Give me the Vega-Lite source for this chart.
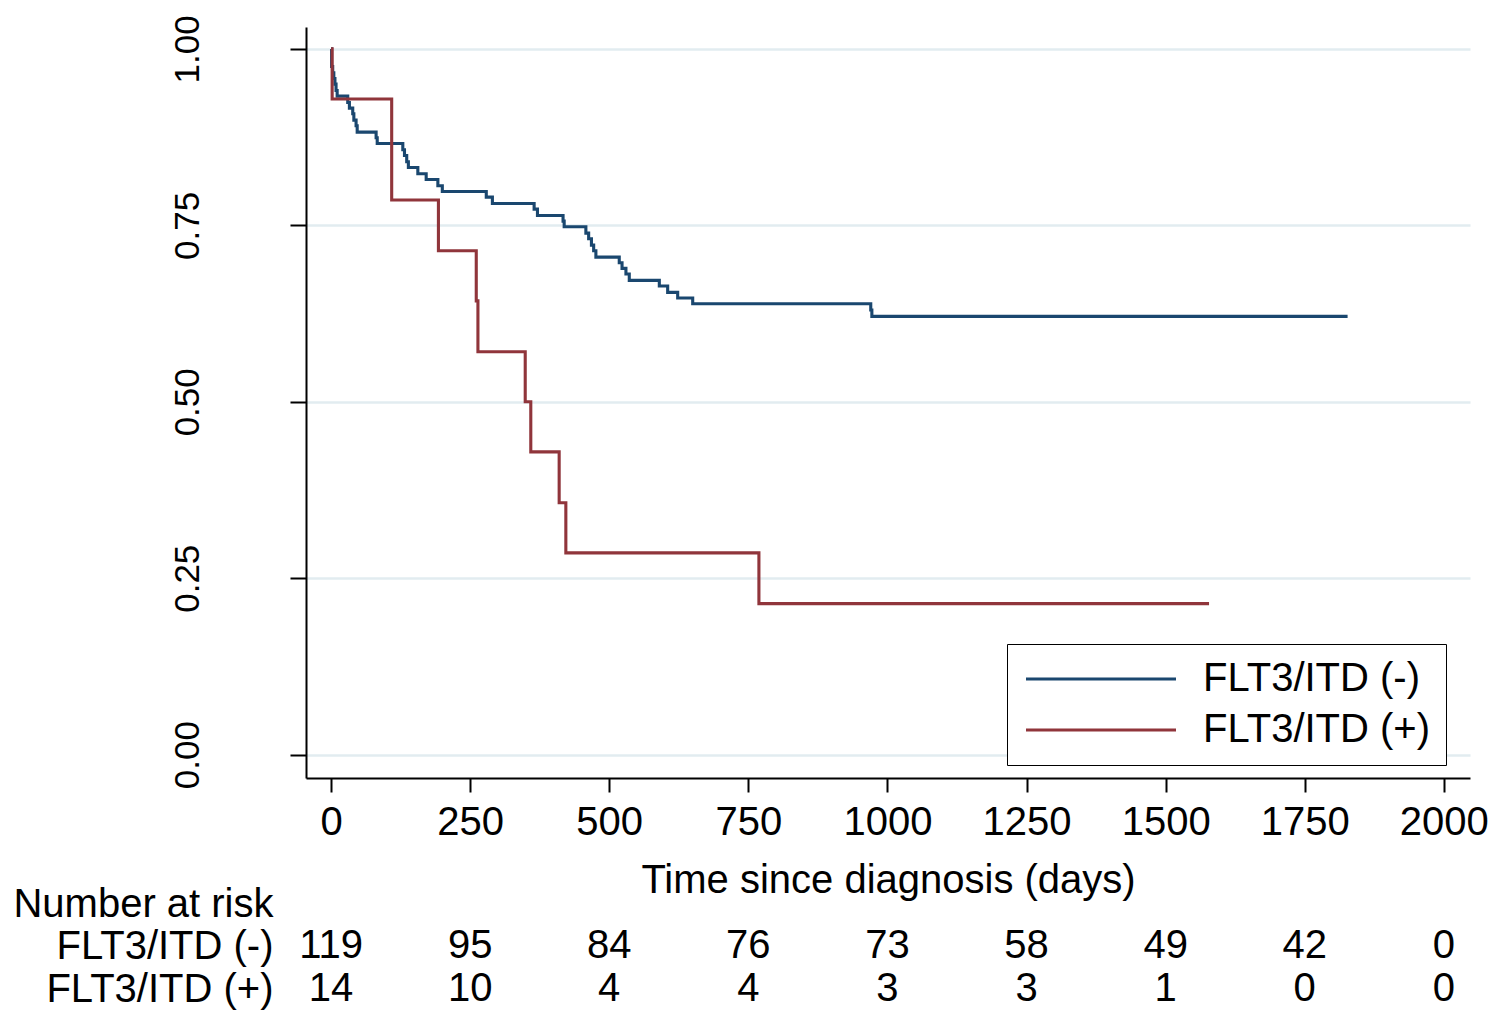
{
  "$schema": "https://vega.github.io/schema/vega-lite/v6.json",
  "background": "white",
  "autosize": {"type": "pad"},
  "padding": {"left": 12, "top": 14, "right": 12, "bottom": 11},
  "spacing": 146.5,
  "bounds": "flush",
  "config": {
    "font": "Liberation Sans",
    "view": {"stroke": null},
    "axis": {
      "labelColor": "black",
      "titleColor": "black",
      "titleFontWeight": "normal",
      "domainColor": "black",
      "tickColor": "black",
      "labelFont": "Liberation Sans",
      "titleFont": "Liberation Sans"
    }
  },
  "datasets": {
    "km": [
      {"group": "FLT3/ITD (-)", "time": 0, "surv": 1.0},
      {"group": "FLT3/ITD (-)", "time": 1, "surv": 0.975},
      {"group": "FLT3/ITD (-)", "time": 3, "surv": 0.966},
      {"group": "FLT3/ITD (-)", "time": 5, "surv": 0.958},
      {"group": "FLT3/ITD (-)", "time": 7, "surv": 0.950},
      {"group": "FLT3/ITD (-)", "time": 9, "surv": 0.941},
      {"group": "FLT3/ITD (-)", "time": 11, "surv": 0.933},
      {"group": "FLT3/ITD (-)", "time": 30, "surv": 0.924},
      {"group": "FLT3/ITD (-)", "time": 33, "surv": 0.916},
      {"group": "FLT3/ITD (-)", "time": 39, "surv": 0.908},
      {"group": "FLT3/ITD (-)", "time": 41, "surv": 0.899},
      {"group": "FLT3/ITD (-)", "time": 45, "surv": 0.891},
      {"group": "FLT3/ITD (-)", "time": 47, "surv": 0.882},
      {"group": "FLT3/ITD (-)", "time": 81, "surv": 0.874},
      {"group": "FLT3/ITD (-)", "time": 83, "surv": 0.866},
      {"group": "FLT3/ITD (-)", "time": 129, "surv": 0.857},
      {"group": "FLT3/ITD (-)", "time": 132, "surv": 0.849},
      {"group": "FLT3/ITD (-)", "time": 136, "surv": 0.840},
      {"group": "FLT3/ITD (-)", "time": 139, "surv": 0.832},
      {"group": "FLT3/ITD (-)", "time": 156, "surv": 0.823},
      {"group": "FLT3/ITD (-)", "time": 171, "surv": 0.815},
      {"group": "FLT3/ITD (-)", "time": 192, "surv": 0.806},
      {"group": "FLT3/ITD (-)", "time": 200, "surv": 0.798},
      {"group": "FLT3/ITD (-)", "time": 279, "surv": 0.790},
      {"group": "FLT3/ITD (-)", "time": 290, "surv": 0.781},
      {"group": "FLT3/ITD (-)", "time": 365, "surv": 0.773},
      {"group": "FLT3/ITD (-)", "time": 371, "surv": 0.764},
      {"group": "FLT3/ITD (-)", "time": 417, "surv": 0.756},
      {"group": "FLT3/ITD (-)", "time": 419, "surv": 0.748},
      {"group": "FLT3/ITD (-)", "time": 458, "surv": 0.739},
      {"group": "FLT3/ITD (-)", "time": 463, "surv": 0.731},
      {"group": "FLT3/ITD (-)", "time": 468, "surv": 0.722},
      {"group": "FLT3/ITD (-)", "time": 472, "surv": 0.714},
      {"group": "FLT3/ITD (-)", "time": 476, "surv": 0.705},
      {"group": "FLT3/ITD (-)", "time": 518, "surv": 0.697},
      {"group": "FLT3/ITD (-)", "time": 523, "surv": 0.689},
      {"group": "FLT3/ITD (-)", "time": 530, "surv": 0.681},
      {"group": "FLT3/ITD (-)", "time": 536, "surv": 0.672},
      {"group": "FLT3/ITD (-)", "time": 590, "surv": 0.664},
      {"group": "FLT3/ITD (-)", "time": 605, "surv": 0.655},
      {"group": "FLT3/ITD (-)", "time": 623, "surv": 0.647},
      {"group": "FLT3/ITD (-)", "time": 650, "surv": 0.639},
      {"group": "FLT3/ITD (-)", "time": 970, "surv": 0.630},
      {"group": "FLT3/ITD (-)", "time": 972, "surv": 0.621},
      {"group": "FLT3/ITD (-)", "time": 1827, "surv": 0.621},
      {"group": "FLT3/ITD (+)", "time": 0, "surv": 1.0},
      {"group": "FLT3/ITD (+)", "time": 2, "surv": 0.929},
      {"group": "FLT3/ITD (+)", "time": 109, "surv": 0.786},
      {"group": "FLT3/ITD (+)", "time": 193, "surv": 0.714},
      {"group": "FLT3/ITD (+)", "time": 261, "surv": 0.643},
      {"group": "FLT3/ITD (+)", "time": 264, "surv": 0.571},
      {"group": "FLT3/ITD (+)", "time": 349, "surv": 0.5},
      {"group": "FLT3/ITD (+)", "time": 359, "surv": 0.429},
      {"group": "FLT3/ITD (+)", "time": 410, "surv": 0.357},
      {"group": "FLT3/ITD (+)", "time": 422, "surv": 0.286},
      {"group": "FLT3/ITD (+)", "time": 769, "surv": 0.214},
      {"group": "FLT3/ITD (+)", "time": 1578, "surv": 0.214}
    ],
    "risk": [
      {"group": "FLT3/ITD (-)", "time": 0, "n": 119},
      {"group": "FLT3/ITD (-)", "time": 250, "n": 95},
      {"group": "FLT3/ITD (-)", "time": 500, "n": 84},
      {"group": "FLT3/ITD (-)", "time": 750, "n": 76},
      {"group": "FLT3/ITD (-)", "time": 1000, "n": 73},
      {"group": "FLT3/ITD (-)", "time": 1250, "n": 58},
      {"group": "FLT3/ITD (-)", "time": 1500, "n": 49},
      {"group": "FLT3/ITD (-)", "time": 1750, "n": 42},
      {"group": "FLT3/ITD (-)", "time": 2000, "n": 0},
      {"group": "FLT3/ITD (+)", "time": 0, "n": 14},
      {"group": "FLT3/ITD (+)", "time": 250, "n": 10},
      {"group": "FLT3/ITD (+)", "time": 500, "n": 4},
      {"group": "FLT3/ITD (+)", "time": 750, "n": 4},
      {"group": "FLT3/ITD (+)", "time": 1000, "n": 3},
      {"group": "FLT3/ITD (+)", "time": 1250, "n": 3},
      {"group": "FLT3/ITD (+)", "time": 1500, "n": 1},
      {"group": "FLT3/ITD (+)", "time": 1750, "n": 0},
      {"group": "FLT3/ITD (+)", "time": 2000, "n": 0}
    ]
  },
  "vconcat": [
    {
      "width": 1164,
      "height": 751,
      "data": {"name": "km"},
      "mark": {"type": "line", "interpolate": "step-after", "strokeWidth": 3.1},
      "encoding": {
        "x": {
          "field": "time",
          "type": "quantitative",
          "scale": {"domain": [-45, 2047], "nice": false, "zero": false},
          "axis": {
            "values": [0, 250, 500, 750, 1000, 1250, 1500, 1750, 2000],
            "format": "d",
            "grid": false,
            "labelFontSize": 40,
            "labelBaseline": "alphabetic",
            "labelPadding": 42,
            "labelFlush": false,
            "labelOverlap": false,
            "tickSize": 14,
            "tickWidth": 2,
            "domainWidth": 2,
            "title": "Time since diagnosis (days)",
            "titleFontSize": 40,
            "titleBaseline": "alphabetic",
            "titleY": 114
          }
        },
        "y": {
          "field": "surv",
          "type": "quantitative",
          "scale": {"domain": [-0.033, 1.031], "nice": false, "zero": false},
          "axis": {
            "values": [0, 0.25, 0.5, 0.75, 1],
            "format": ".2f",
            "grid": true,
            "gridColor": "#e2ecf0",
            "gridWidth": 2.5,
            "labelAngle": -90,
            "labelAlign": "center",
            "labelBaseline": "bottom",
            "labelFontSize": 35,
            "labelPadding": 85,
            "labelFlush": false,
            "labelOverlap": false,
            "tickSize": 16,
            "tickWidth": 2,
            "domainWidth": 2,
            "title": null
          }
        },
        "color": {
          "field": "group",
          "type": "nominal",
          "scale": {"domain": ["FLT3/ITD (-)", "FLT3/ITD (+)"], "range": ["#1a476f", "#90353b"]},
          "legend": {
            "title": null,
            "orient": "none",
            "legendX": 701,
            "legendY": 617,
            "symbolType": "stroke",
            "symbolSize": 22500,
            "symbolStrokeWidth": 3.1,
            "symbolOffset": 2,
            "clipHeight": 40,
            "rowPadding": 11,
            "labelOffset": 25,
            "labelFontSize": 40,
            "labelColor": "black",
            "labelLimit": 400,
            "padding": 15,
            "strokeColor": "black",
            "fillColor": "white"
          }
        }
      }
    },
    {
      "width": 1164,
      "height": 86,
      "data": {"name": "risk"},
      "mark": {"type": "text", "fontSize": 40, "color": "black", "baseline": "middle", "align": "center"},
      "encoding": {
        "x": {
          "field": "time",
          "type": "quantitative",
          "scale": {"domain": [-45, 2047], "nice": false, "zero": false},
          "axis": null
        },
        "y": {
          "field": "group",
          "type": "nominal",
          "sort": ["FLT3/ITD (-)", "FLT3/ITD (+)"],
          "scale": {"type": "point", "padding": 0.5},
          "axis": {
            "orient": "left",
            "domain": false,
            "ticks": false,
            "grid": false,
            "labelFontSize": 40,
            "labelAlign": "right",
            "labelBaseline": "middle",
            "labelPadding": 33,
            "labelLimit": 400,
            "title": "Number at risk",
            "titleFontSize": 40,
            "titleAngle": 0,
            "titleAlign": "right",
            "titleBaseline": "middle",
            "titleX": -33,
            "titleY": -20
          }
        },
        "text": {"field": "n", "type": "quantitative"}
      }
    }
  ]
}
